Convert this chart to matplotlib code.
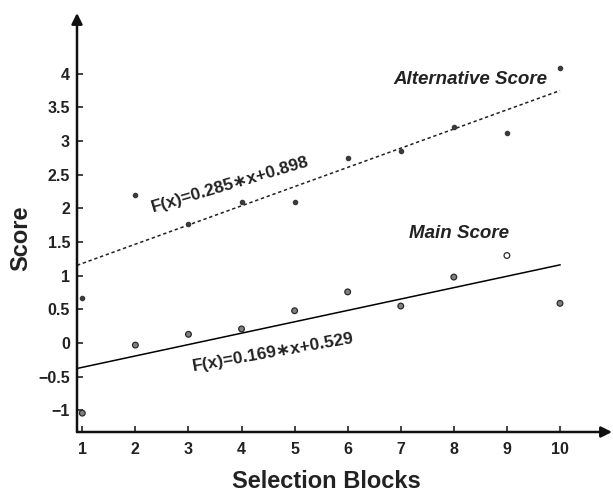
import numpy as np
import matplotlib.pyplot as plt

plt.rcParams['font.family'] = ['Liberation Sans', 'DejaVu Sans']
plt.rcParams['font.weight'] = 'bold'

blocks = np.arange(1, 11)
main_score = [-1.04, -0.03, 0.13, 0.21, 0.48, 0.76, 0.55, 0.98, 1.30, 0.59]
alt_score = [0.67, 2.20, 1.77, 2.09, 2.09, 2.75, 2.85, 3.21, 3.12, 4.08]
# fitted lines as drawn in the picture (slope, intercept)
main_fit = [0.169, -0.529]
alt_fit = [0.285, 0.898]
main_label = 'F(x)=0.169\u2217x+0.529'
alt_label = 'F(x)=0.285\u2217x+0.898'
yticks = [-1, -0.5, 0, 0.5, 1, 1.5, 2, 2.5, 3, 3.5, 4]
ytick_labels = ['\u22121', '\u22120.5', '0', '0.5', '1', '1.5', '2', '2.5', '3', '3.5', '4']

fig = plt.figure(figsize=(6.13, 4.92), dpi=100)
ax = fig.add_axes([77/613, 60/492, 535/613, 419/492])

xx = np.array([0.9, 10])
ax.plot(xx, main_fit[0]*xx + main_fit[1], color='k', lw=1.1)
ax.plot(xx, alt_fit[0]*xx + alt_fit[1], color='#222222', lw=1.1,
        linestyle=(0, (2.2, 1.8)))

ax.plot(blocks, alt_score, 'o', ms=3, color='#3a3a3a', mec='#3a3a3a')
fill = ['#808080'] * len(blocks)
fill[8] = 'white'
ax.scatter(blocks, main_score, s=17, c=fill, edgecolors='#2a2a2a',
           linewidths=0.9, zorder=3)

ax.text(9.76, 3.91, 'Alternative Score', style='italic', fontsize=13.5,
        ha='right', va='center', color='#222222')
ax.text(9.03, 1.62, 'Main Score', style='italic', fontsize=13.5,
        ha='right', va='center', color='#222222')
ax.text(3.78, 2.35, alt_label, fontsize=12.5, rotation=16.5, ha='center',
        va='center', color='#222222')
ax.text(4.6, -0.14, main_label, fontsize=12.5, rotation=10, ha='center',
        va='center', color='#222222')

ax.set_xlim(0.9, 10.98)
ax.set_ylim(-1.32, 4.9)
ax.set_xticks(blocks)
ax.set_yticks(yticks)
ax.set_yticklabels(ytick_labels)
ax.tick_params(direction='in', length=4, width=1.2, labelsize=11.5,
               colors='#222222')
ax.tick_params(axis='x', pad=7)
ax.tick_params(axis='y', pad=5)
for s in ax.spines.values():
    s.set_visible(False)

ax.annotate('', xy=(1, 0), xytext=(0, 0), xycoords='axes fraction',
            arrowprops=dict(arrowstyle='-|>', lw=1.8, color='#111111',
                            mutation_scale=16, shrinkA=0, shrinkB=0))
ax.annotate('', xy=(0, 1), xytext=(0, 0), xycoords='axes fraction',
            arrowprops=dict(arrowstyle='-|>', lw=1.8, color='#111111',
                            mutation_scale=16, shrinkA=0, shrinkB=0))

fig.text(21/613, 1 - 238/492, 'Score', rotation=90, fontsize=17,
         ha='center', va='center', color='#222222')
fig.text(326/613, 1 - 481/492, 'Selection Blocks', fontsize=17,
         ha='center', va='center', color='#222222')

fig.savefig('out.png', dpi=100)
